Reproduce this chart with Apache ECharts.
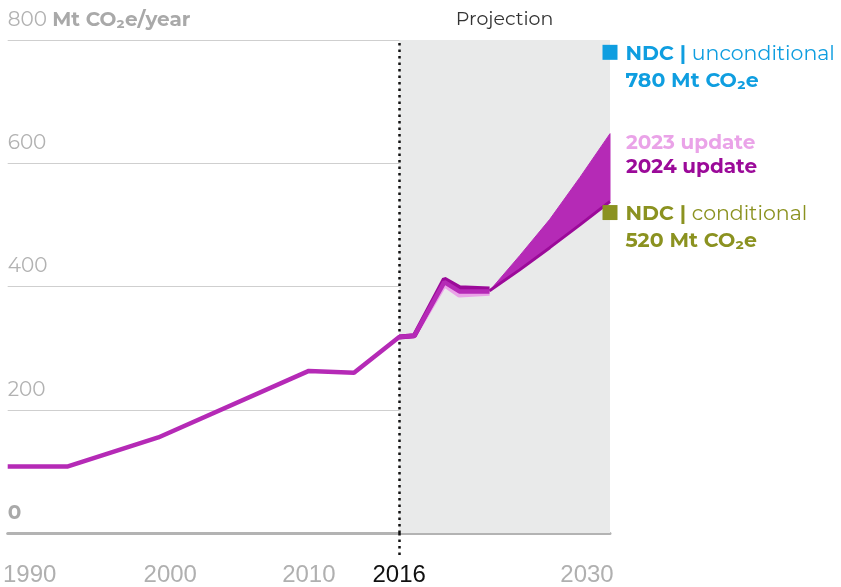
<!DOCTYPE html>
<html>
<head>
<meta charset="utf-8">
<style>
  html, body { margin: 0; padding: 0; background: #ffffff; }
  #chart { width: 841px; height: 587px; }
</style>
<script src="https://cdn.jsdelivr.net/npm/echarts@6/dist/echarts.min.js"></script>
</head>
<body>
<div id="chart"></div>
<script>
// Historical emissions (Mt CO2e/year), shared by both updates
const histYears = [1990, 1994, 2000, 2010, 2013, 2016, 2017, 2019, 2020, 2022];
const histValues = [108, 108, 155, 263, 260, 318, 320, 407, 392, 392];

// Recent years as revised in each update
const recentYears = [2016, 2017, 2019, 2020, 2022];
const update2023Values = [318, 320, 403, 386, 389];
const update2024Values = [318, 320, 412, 398, 396];

// Projection range, 2022-2030
const projYears = [2022, 2024, 2026, 2028, 2030];
const projLower = [393, 427, 463, 500, 538];
const projUpper = [393, 450, 509, 577, 648];

// NDC targets for 2030
const ndcYear = 2030;
const ndcUnconditional = 780;
const ndcConditional = 520;

// Axis ticks
const xTickYears = [1990, 2000, 2010, 2016, 2030];
const projectionStart = 2016;
const projectionEnd = 2030;

const C = {
  hist: '#b52ab6',
  u2023: '#eaa3e8',
  u2024: '#9b0a99',
  blue: '#0f9ee0',
  olive: '#8b9220',
  grey: '#b2b2b2',
  shade: '#e9eaea'
};
const FONT = 'Montserrat, "Noto Sans", Lato, sans-serif';
const NARROW = '"Liberation Sans Narrow", "Liberation Sans", sans-serif';

const zip = (xs, ys) => xs.map((x, i) => [x, ys[i]]);

const chart = echarts.init(document.getElementById('chart'), null, { renderer: 'canvas' });

// range band between lower and upper projection, drawn as one polygon
function renderBand(params, api) {
  if (params.dataIndex !== 0) return null;
  const top = projYears.map((y, i) => api.coord([y, projUpper[i]]));
  const bottom = projYears.map((y, i) => api.coord([y, projLower[i]])).reverse();
  return {
    type: 'polygon',
    shape: { points: top.concat(bottom) },
    style: { fill: C.hist, stroke: C.hist, lineWidth: 1 }
  };
}

const xRich = (extra) => Object.assign({ color: '#b0b0b0', fontSize: 24, fontFamily: NARROW }, extra || {});

const option = {
  animation: false,
  backgroundColor: '#ffffff',
  textStyle: { fontFamily: FONT },
  grid: { left: 6, right: 231, top: 40, bottom: 53, containLabel: false },
  xAxis: {
    type: 'value',
    min: 1990,
    max: 2030,
    splitLine: { show: false },
    axisLine: { show: true, onZero: false, lineStyle: { color: '#b3b3b3', width: 3 } },
    axisTick: {
      show: true,
      customValues: [projectionStart],
      length: 26,
      lineStyle: { color: '#111', width: 2.5, type: [2.5, 4] }
    },
    axisLabel: {
      customValues: xTickYears,
      margin: 30,
      fontFamily: NARROW,
      fontSize: 24,
      color: '#b0b0b0',
      formatter: function (v) {
        if (v === projectionStart) return '{k|' + v + '}';
        if (v === 1990) return '{l|' + v + '}';
        if (v === 2030) return '{r|' + v + '}';
        if (v === 2000) return '{s|' + v + '}';
        return '{g|' + v + '}';
      },
      rich: {
        k: xRich({ color: '#111111' }),
        g: xRich(),
        s: xRich({ padding: [0, 0, 0, 24] }),
        l: xRich({ padding: [0, 0, 0, 44] }),
        r: xRich({ padding: [0, 46, 0, 0] })
      }
    }
  },
  yAxis: {
    type: 'value',
    min: 0,
    max: 800,
    interval: 200,
    axisLine: { show: false },
    axisTick: { show: false },
    splitLine: { show: true, lineStyle: { color: '#cfcfcf', width: 1.2 } },
    axisLabel: {
      inside: true,
      margin: 0,
      align: 'left',
      verticalAlign: 'bottom',
      padding: [0, 0, 10, 0],
      fontFamily: FONT,
      fontSize: 20,
      color: C.grey,
      formatter: function (v) {
        if (v === 800) return '{n|' + v + '} {b|Mt CO₂e/year}';
        if (v === 0) return '{b|' + v + '}';
        return '{n|' + v + '}';
      },
      rich: {
        n: { fontFamily: FONT, fontSize: 20, color: C.grey },
        b: { fontFamily: FONT, fontSize: 20, fontWeight: 'bold', color: '#a9a9a9' }
      }
    }
  },
  graphic: [
    {
      type: 'text',
      left: 626,
      top: 133,
      style: {
        text: '{a|2023 update}\n{b|2024 update}',
        rich: {
          a: { fontFamily: FONT, fontSize: 20, fontWeight: 'bold', fill: C.u2023, lineHeight: 24 },
          b: { fontFamily: FONT, fontSize: 20, fontWeight: 'bold', fill: C.u2024, lineHeight: 24 }
        }
      }
    }
  ],
  series: [
    {
      // projection period shading
      type: 'line',
      z: -1,
      silent: true,
      data: [],
      markArea: {
        silent: true,
        itemStyle: { color: C.shade },
        label: {
          show: true,
          position: 'top',
          distance: 11,
          formatter: 'Projection',
          fontFamily: FONT,
          fontSize: 19,
          color: '#333333'
        },
        data: [[{ xAxis: projectionStart }, { xAxis: projectionEnd }]]
      }
    },
    {
      // start of projection
      type: 'line',
      z: 1,
      silent: true,
      data: [],
      markLine: {
        silent: true,
        symbol: ['none', 'none'],
        label: { show: false },
        lineStyle: { color: '#111111', width: 2.5, type: [2.5, 4] },
        data: [{ xAxis: projectionStart }]
      }
    },
    {
      name: 'Projection range',
      type: 'custom',
      z: 2,
      silent: true,
      renderItem: renderBand,
      data: projYears.map((y, i) => [y, projLower[i], projUpper[i]]),
      encode: { x: 0, y: [1, 2] }
    },
    {
      name: '2023 update',
      type: 'line',
      z: 3,
      symbol: 'none',
      lineStyle: { width: 5, color: C.u2023 },
      data: zip(recentYears, update2023Values)
    },
    {
      name: '2024 update',
      type: 'line',
      z: 4,
      symbol: 'none',
      lineStyle: { width: 5, color: C.u2024 },
      data: zip(recentYears, update2024Values)
    },
    {
      name: '2024 projection',
      type: 'line',
      z: 4,
      symbol: 'none',
      lineStyle: { width: 3, color: C.u2024 },
      data: zip(projYears, projLower)
    },
    {
      name: 'Historical',
      type: 'line',
      z: 5,
      symbol: 'none',
      lineStyle: { width: 4.5, color: C.hist },
      data: zip(histYears, histValues)
    },
    {
      name: 'NDC',
      type: 'scatter',
      z: 6,
      symbol: 'rect',
      symbolSize: 15,
      clip: false,
      itemStyle: { opacity: 1 },
      data: [
        {
          value: [ndcYear, ndcUnconditional],
          itemStyle: { color: C.blue, opacity: 1 },
          label: {
            formatter: '{b|NDC | }{r|unconditional}\n{b|' + ndcUnconditional + ' Mt CO₂e}',
            rich: {
              b: { fontFamily: FONT, fontSize: 20.5, fontWeight: 'bold', color: C.blue, lineHeight: 27 },
              r: { fontFamily: FONT, fontSize: 20.5, color: C.blue, lineHeight: 27 }
            }
          }
        },
        {
          value: [ndcYear, ndcConditional],
          itemStyle: { color: C.olive, opacity: 1 },
          label: {
            formatter: '{b|NDC | }{r|conditional}\n{b|' + ndcConditional + ' Mt CO₂e}',
            rich: {
              b: { fontFamily: FONT, fontSize: 20.5, fontWeight: 'bold', color: C.olive, lineHeight: 27 },
              r: { fontFamily: FONT, fontSize: 20.5, color: C.olive, lineHeight: 27 }
            }
          }
        }
      ],
      label: {
        show: true,
        position: 'right',
        distance: 8,
        offset: [0, 15]
      }
    }
  ]
};

chart.setOption(option);
</script>
</body>
</html>
